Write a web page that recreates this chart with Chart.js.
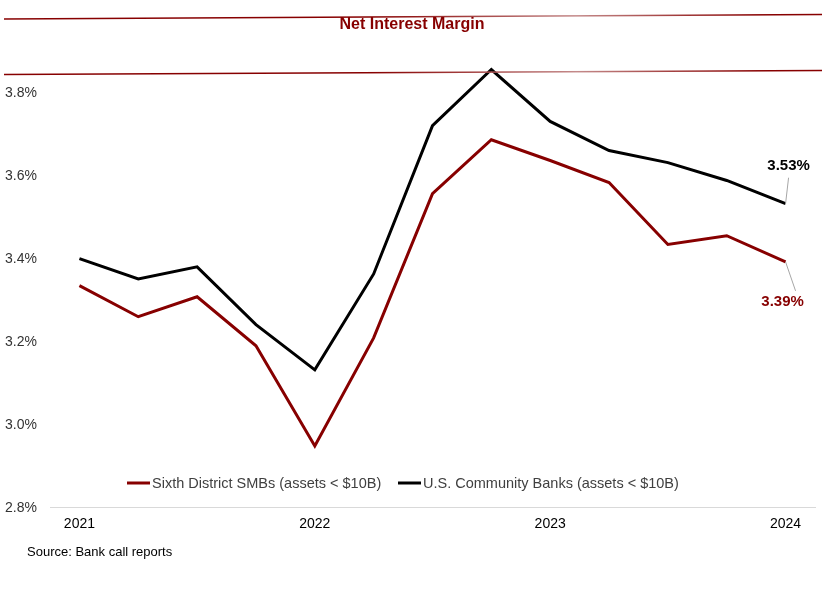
<!DOCTYPE html>
<html>
<head>
<meta charset="utf-8">
<script src="https://cdn.jsdelivr.net/npm/chart.js@4.4.1/dist/chart.umd.min.js"></script>
<style>
  html, body { margin: 0; padding: 0; background: #fff; }
  #wrap { width: 828px; height: 602px; position: relative; }
</style>
</head>
<body>
<div id="wrap"><canvas id="nimChart" width="828" height="602"></canvas></div>
<script>
// Net interest margin, quarterly, in percent
const quarters = ['2021Q1', '2021Q2', '2021Q3', '2021Q4',
                  '2022Q1', '2022Q2', '2022Q3', '2022Q4',
                  '2023Q1', '2023Q2', '2023Q3', '2023Q4',
                  '2024Q1'];
const sixthDistrict = [3.333, 3.258, 3.306, 3.188, 2.947, 3.207, 3.554, 3.684, 3.634, 3.581, 3.432, 3.453, 3.39];
const usCommunity   = [3.398, 3.349, 3.378, 3.239, 3.130, 3.361, 3.718, 3.853, 3.728, 3.658, 3.629, 3.586, 3.53];
const yTickValues = [2.8, 3.0, 3.2, 3.4, 3.6, 3.8];
const seriesNames = ['Sixth District SMBs (assets < $10B)', 'U.S. Community Banks (assets < $10B)'];

const RED = '#870000';
const BLACK = '#000000';

const decor = {
  id: 'decor',
  afterDraw(chart) {
    const ctx = chart.ctx;
    ctx.save();

    // title band rules
    function rule(yl, yr) {
      const g = ctx.createLinearGradient(4, 0, 822, 0);
      g.addColorStop(0, RED);
      g.addColorStop(0.45, RED);
      g.addColorStop(0.7, '#c48a8a');
      g.addColorStop(0.92, RED);
      g.addColorStop(1, RED);
      ctx.strokeStyle = g;
      ctx.lineWidth = 1.5;
      ctx.beginPath();
      ctx.moveTo(4, yl);
      ctx.lineTo(822, yr);
      ctx.stroke();
    }
    rule(19, 14.5);
    rule(74.5, 70.5);

    ctx.fillStyle = RED;
    ctx.font = 'bold 16px "Liberation Sans Narrow", "Liberation Sans", Arial, sans-serif';
    ctx.textAlign = 'center';
    ctx.textBaseline = 'middle';
    ctx.fillText('Net Interest Margin', 412, 25);

    // legend inside the plot area
    ctx.font = '14.5px "Liberation Sans", Arial, sans-serif';
    ctx.textAlign = 'left';
    const items = [
      { x: 127, color: RED, text: seriesNames[0] },
      { x: 398, color: BLACK, text: seriesNames[1] }
    ];
    items.forEach(it => {
      ctx.strokeStyle = it.color;
      ctx.lineWidth = 3;
      ctx.beginPath();
      ctx.moveTo(it.x, 483);
      ctx.lineTo(it.x + 23, 483);
      ctx.stroke();
      ctx.fillStyle = '#404040';
      ctx.fillText(it.text, it.x + 25, 484);
    });

    // end labels with leader lines
    const lastRed = chart.getDatasetMeta(0).data[quarters.length - 1];
    const lastBlack = chart.getDatasetMeta(1).data[quarters.length - 1];
    ctx.strokeStyle = '#a6a6a6';
    ctx.lineWidth = 1;
    ctx.beginPath();
    ctx.moveTo(lastBlack.x, lastBlack.y);
    ctx.lineTo(lastBlack.x + 3, lastBlack.y - 26);
    ctx.moveTo(lastRed.x, lastRed.y);
    ctx.lineTo(lastRed.x + 10, lastRed.y + 29);
    ctx.stroke();

    ctx.font = 'bold 15px "Liberation Sans", Arial, sans-serif';
    ctx.textAlign = 'center';
    ctx.fillStyle = BLACK;
    ctx.fillText(usCommunity[usCommunity.length - 1].toFixed(2) + '%', lastBlack.x + 3, lastBlack.y - 38);
    ctx.fillStyle = RED;
    ctx.fillText(sixthDistrict[sixthDistrict.length - 1].toFixed(2) + '%', lastRed.x - 3, lastRed.y + 40);

    // source note
    ctx.font = '13px "Liberation Sans", Arial, sans-serif';
    ctx.textAlign = 'left';
    ctx.fillStyle = '#000';
    ctx.fillText('Source: Bank call reports', 27, 552);

    ctx.restore();
  }
};

const ctx = document.getElementById('nimChart').getContext('2d');
const nimChart = new Chart(ctx, {
  type: 'line',
  data: {
    labels: quarters,
    datasets: [
      {
        label: seriesNames[0],
        data: sixthDistrict,
        borderColor: RED,
        borderWidth: 3,
        pointRadius: 0,
        tension: 0,
        fill: false
      },
      {
        label: seriesNames[1],
        data: usCommunity,
        borderColor: BLACK,
        borderWidth: 3,
        pointRadius: 0,
        tension: 0,
        fill: false
      }
    ]
  },
  options: {
    responsive: false,
    animation: false,
    layout: { padding: { top: 50, left: 5, right: 13, bottom: 65 } },
    plugins: {
      legend: { display: false },
      title: { display: false },
      tooltip: { enabled: false }
    },
    scales: {
      x: {
        offset: true,
        grid: { display: false, drawTicks: false },
        border: { display: true, color: '#d9d9d9', width: 1 },
        ticks: {
          autoSkip: false,
          maxRotation: 0,
          padding: 9,
          color: '#000',
          font: { family: '"Liberation Sans", Arial, sans-serif', size: 14 },
          callback: (v, i) => quarters[i].endsWith('Q1') ? quarters[i].slice(0, 4) : ''
        },
        afterFit: s => { s.height = 30; }
      },
      y: {
        min: 2.8,
        max: 3.9,
        grid: { display: false, drawTicks: false },
        border: { display: false },
        afterBuildTicks: s => { s.ticks = yTickValues.map(v => ({ value: v })); },
        ticks: {
          crossAlign: 'far',
          labelOffset: 1.5,
          color: '#333',
          font: { family: '"Liberation Sans", Arial, sans-serif', size: 14 },
          callback: v => v.toFixed(1) + '%'
        },
        afterFit: s => { s.width = 45; }
      }
    }
  },
  plugins: [decor]
});
</script>
</body>
</html>
